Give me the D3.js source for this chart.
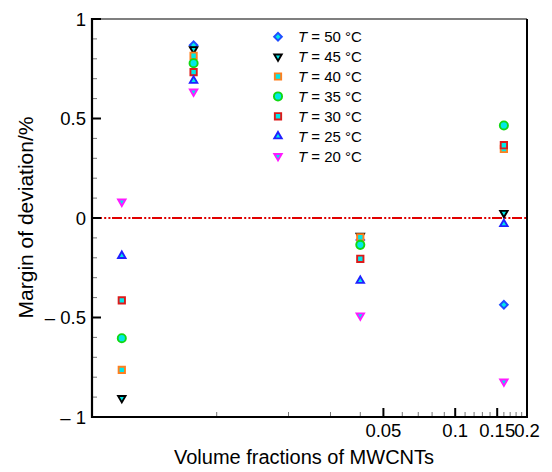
<!DOCTYPE html>
<html>
<head>
<meta charset="utf-8">
<script src="https://cdn.jsdelivr.net/npm/d3@7"></script>
<style>
  html, body { margin: 0; padding: 0; background: #fff; }
  svg { display: block; font-family: "Liberation Sans", Arial, Helvetica, sans-serif; }
</style>
</head>
<body>
<svg id="chart" width="552" height="472"></svg>
<script>
// Volume fractions of MWCNTs (log axis)
const volumeFractions = [0.004, 0.008, 0.04, 0.16];

// Margin of deviation (%) for each temperature, one value per volume fraction
const temperatures = [50, 45, 40, 35, 30, 25, 20];
const dev50 = [null, 0.868, -0.11, -0.436];
const dev45 = [-0.905, 0.848, -0.09, 0.025];
const dev40 = [-0.763, 0.815, -0.097, 0.347];
const dev35 = [-0.604, 0.778, -0.135, 0.465];
const dev30 = [-0.414, 0.733, -0.205, 0.366];
const dev25 = [-0.19, 0.69, -0.315, -0.03];
const dev20 = [0.082, 0.635, -0.49, -0.822];

// Axis ticks
const xMajorTicks = [0.05, 0.1, 0.15, 0.2];
const xMinorTicks = [0.01, 0.02, 0.03, 0.04, 0.06, 0.07, 0.08, 0.09,
                     0.11, 0.12, 0.13, 0.14, 0.16, 0.17, 0.18, 0.19];
const yMajorTicks = [-1, -0.5, 0, 0.5, 1];
const yMinorTicks = [-0.9, -0.8, -0.7, -0.6, -0.4, -0.3, -0.2, -0.1,
                     0.1, 0.2, 0.3, 0.4, 0.6, 0.7, 0.8, 0.9];

const seriesValues = [dev50, dev45, dev40, dev35, dev30, dev25, dev20];

// Marker style per series: shape, edge colour
const markerStyles = [
  { shape: "diamond", stroke: "#1f4dff" },
  { shape: "triDown", stroke: "#000000" },
  { shape: "square",  stroke: "#ff7f1e" },
  { shape: "circle",  stroke: "#12d812" },
  { shape: "square",  stroke: "#dd1a1a" },
  { shape: "triUp",   stroke: "#2020ff" },
  { shape: "triDown", stroke: "#ff1aff" }
];
const markerFill = "#00e8e8";

const svg = d3.select("#chart");
const plotLeft = 92, plotRight = 527, plotTop = 19, plotBottom = 417;

const x = d3.scaleLog().domain([0.003, 0.2]).range([plotLeft, plotRight]);
const y = d3.scaleLinear().domain([-1, 1]).range([plotBottom, plotTop]);

function symbolPath(shape) {
  switch (shape) {
    case "diamond": return { d: d3.symbol(d3.symbolSquare, 30)(), rot: 45 };
    case "square":  return { d: d3.symbol(d3.symbolSquare, 40)(), rot: 0 };
    case "circle":  return { d: d3.symbol(d3.symbolCircle, 52)(), rot: 0 };
    case "triUp":   return { d: d3.symbol(d3.symbolTriangle, 24)(), rot: 0 };
    case "triDown": return { d: d3.symbol(d3.symbolTriangle, 24)(), rot: 180 };
  }
}

// Zero reference line (dash-dot-dot)
svg.append("line")
  .attr("x1", plotLeft).attr("x2", plotRight)
  .attr("y1", y(0)).attr("y2", y(0))
  .attr("stroke", "#e00000").attr("stroke-width", 1.8)
  .attr("stroke-dasharray", "10,2.2,2,2.2,2,1.6");

// Frame
svg.append("line").attr("x1", plotLeft).attr("x2", plotRight).attr("y1", plotTop).attr("y2", plotTop)
  .attr("stroke", "#555").attr("stroke-width", 1.5);
svg.append("line").attr("x1", plotRight).attr("x2", plotRight).attr("y1", plotTop).attr("y2", plotBottom)
  .attr("stroke", "#000").attr("stroke-width", 2);

// Y axis ticks
const gy = svg.append("g");
gy.selectAll("line.minor").data(yMinorTicks).join("line")
  .attr("class", "minor")
  .attr("x1", plotLeft).attr("x2", plotLeft + 5)
  .attr("y1", d => y(d)).attr("y2", d => y(d))
  .attr("stroke", "#777").attr("stroke-width", 1);
gy.selectAll("line.major").data(yMajorTicks).join("line")
  .attr("class", "major")
  .attr("x1", plotLeft).attr("x2", plotLeft + 9)
  .attr("y1", d => y(d)).attr("y2", d => y(d))
  .attr("stroke", "#000").attr("stroke-width", 2);
gy.selectAll("text").data(yMajorTicks).join("text")
  .attr("x", 86).attr("y", d => y(d) + 6.5)
  .attr("text-anchor", "end")
  .attr("font-size", 18.5)
  .text(d => d < 0 ? "\u2013 " + Math.abs(d) : String(d));

// X axis ticks
const gx = svg.append("g");
gx.selectAll("line.minor").data(xMinorTicks).join("line")
  .attr("class", "minor")
  .attr("x1", d => x(d)).attr("x2", d => x(d))
  .attr("y1", plotBottom).attr("y2", plotBottom - 5)
  .attr("stroke", "#777").attr("stroke-width", 1);
gx.selectAll("line.major").data(xMajorTicks).join("line")
  .attr("class", "major")
  .attr("x1", d => x(d)).attr("x2", d => x(d))
  .attr("y1", plotBottom).attr("y2", plotBottom - 9)
  .attr("stroke", "#000").attr("stroke-width", 2);
gx.selectAll("text").data(xMajorTicks).join("text")
  .attr("x", d => x(d)).attr("y", 437)
  .attr("text-anchor", "middle")
  .attr("font-size", 18.5)
  .text(d => String(d));

// Axis lines
svg.append("line").attr("x1", plotLeft).attr("x2", plotLeft).attr("y1", plotTop - 1).attr("y2", plotBottom + 1)
  .attr("stroke", "#000").attr("stroke-width", 2.2);
svg.append("line").attr("x1", plotLeft - 1).attr("x2", plotRight + 1).attr("y1", plotBottom).attr("y2", plotBottom)
  .attr("stroke", "#000").attr("stroke-width", 2.2);

// Axis titles
svg.append("text")
  .attr("x", (173 + 435) / 2).attr("y", 464)
  .attr("text-anchor", "middle").attr("font-size", 20)
  .text("Volume fractions of MWCNTs");
svg.append("text")
  .attr("transform", `translate(33,${(115 + 320) / 2}) rotate(-90)`)
  .attr("text-anchor", "middle").attr("font-size", 21)
  .text("Margin of deviation/%");

// Data markers, drawn series by series
seriesValues.forEach((vals, i) => {
  const st = markerStyles[i];
  const sym = symbolPath(st.shape);
  const pts = volumeFractions.map((v, j) => ({ xv: v, yv: vals[j] }))
    .filter(p => p.yv !== null);
  svg.append("g").selectAll("path").data(pts).join("path")
    .attr("d", sym.d)
    .attr("transform", p => `translate(${x(p.xv)},${y(p.yv)}) rotate(${sym.rot})`)
    .attr("fill", markerFill)
    .attr("stroke", st.stroke)
    .attr("stroke-width", 1.9);
});

// Legend
const legend = svg.append("g");
temperatures.forEach((t, i) => {
  const cy = 36.7 + i * 19.9;
  const st = markerStyles[i];
  const sym = symbolPath(st.shape);
  legend.append("path")
    .attr("d", sym.d)
    .attr("transform", `translate(278,${cy}) rotate(${sym.rot})`)
    .attr("fill", markerFill).attr("stroke", st.stroke).attr("stroke-width", 1.9);
  const txt = legend.append("text")
    .attr("x", 298).attr("y", cy + 5.5)
    .attr("font-size", 15);
  txt.append("tspan").attr("font-style", "italic").text("T");
  txt.append("tspan").text(` = ${t} \u00B0C`);
});
</script>
</body>
</html>
